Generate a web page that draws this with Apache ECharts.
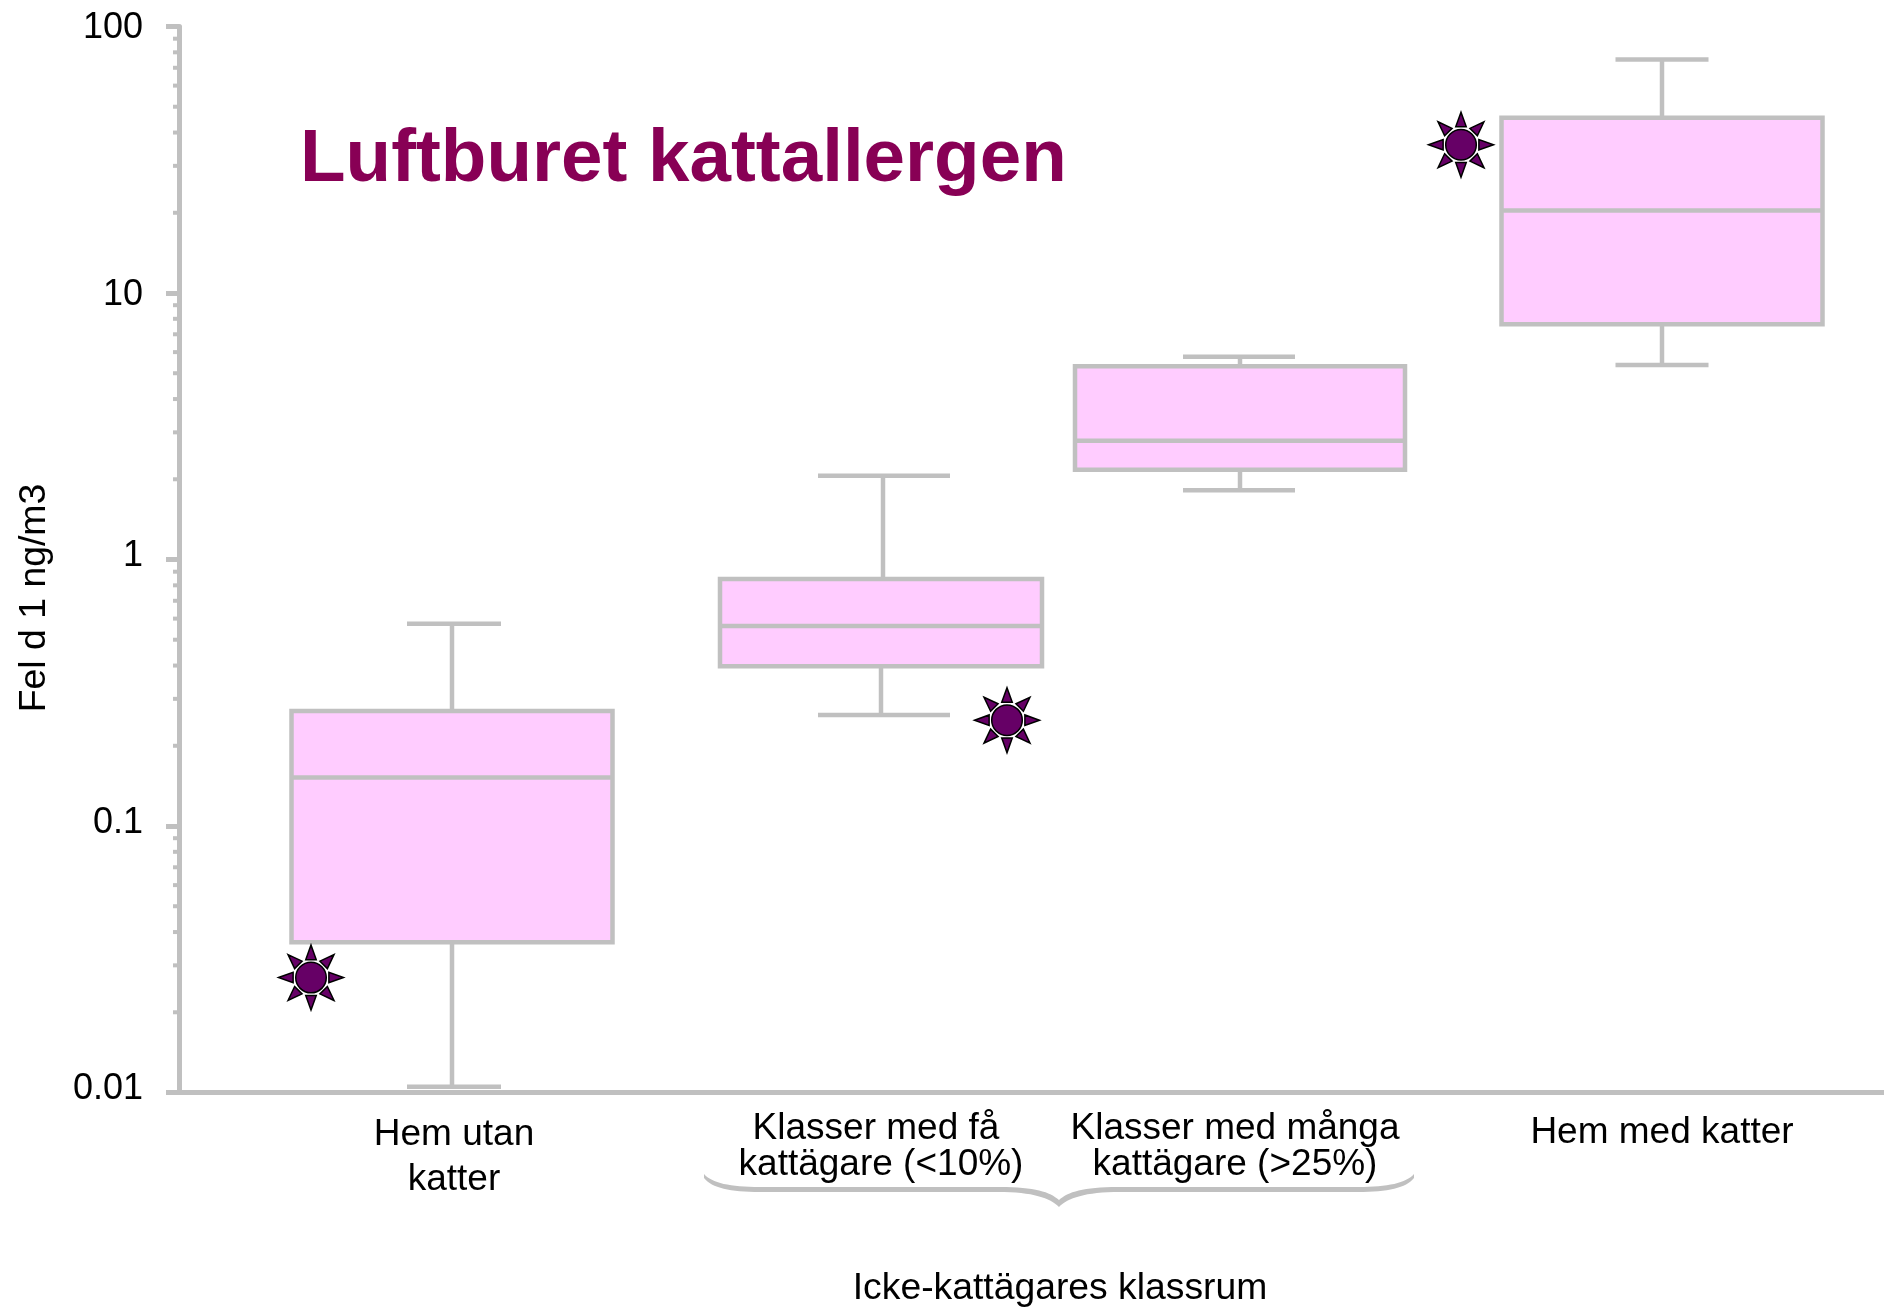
<!DOCTYPE html>
<html><head><meta charset="utf-8">
<style>html,body{margin:0;padding:0;background:#fff}#c{width:1884px;height:1307px}</style>
<script src="https://cdn.jsdelivr.net/npm/echarts@6/dist/echarts.min.js"></script>
</head><body><div id="c"></div>
<script>
const categories = ['Hem utan\nkatter','Klasser med få\nkattägare (<10%)','Klasser med många\nkattägare (>25%)','Hem med katter'];
const lineStyleKeys = [['a','a2'],['b1','b'],['b','b'],['c']];
const labelX = [275, 702, 1056, 1483];
const boxX = [273, 702, 1061, 1483];
const upperWhiskerX = [273, 704, 1061, 1483];
const capX = [275, 705, 1060, 1483];
const boxW = [321, 322, 330, 321];
const capW = [94, 132, 112, 93];
const low  = [0.0105, 0.261, 1.82, 5.37];
const q1   = [0.0366, 0.398, 2.17, 7.64];
const med  = [0.152, 0.563, 2.79, 20.4];
const q3   = [0.27, 0.845, 5.31, 45.5];
const high = [0.574, 2.06, 5.76, 75.2];
const outlierX = [132, 828, 1282];
const outlierY = [0.027, 0.2495, 36];
const yTicks = [0.01, 0.1, 1, 10, 100];
const minorTicks = [0.02,0.03,0.04,0.05,0.06,0.07,0.08,0.09,0.2,0.3,0.4,0.5,0.6,0.7,0.8,0.9,2,3,4,5,6,7,8,9,20,30,40,50,60,70,80,90];
const titleText = 'Luftburet kattallergen';
const yName = 'Fel d 1 ng/m3';
const groupName = 'Icke-kattägares klassrum';

const GREY = '#c0c0c0', FONT = '"Liberation Sans", Arial, sans-serif';
const BRACE = 'M704 1174C712 1183 730 1187 760 1187L1000 1187C1035 1187 1050 1192 1059 1200C1068 1192 1083 1187 1118 1187L1358 1187C1388 1187 1406 1183 1414 1174L1414 1178C1406 1188 1388 1192 1358 1192L1120 1192C1085 1192 1068 1198 1059 1207C1050 1198 1033 1192 998 1192L760 1192C730 1192 712 1188 704 1178Z';

function sunPath(){
  const R = 34, rb = 18.7, hw = 5.5, rc = 16;
  let d = 'path://M' + (R - rc) + ' ' + R + 'A' + rc + ' ' + rc + ' 0 1 1 ' + (R + rc) + ' ' + R + 'A' + rc + ' ' + rc + ' 0 1 1 ' + (R - rc) + ' ' + R + 'Z';
  for (let i = 0; i < 8; i++) {
    const a = i * Math.PI / 4, c = Math.cos(a), s = Math.sin(a);
    const pts = [[R*c, R*s], [rb*c - hw*s, rb*s + hw*c], [rb*c + hw*s, rb*s - hw*c]];
    d += 'M' + pts.map(p => (p[0] + R).toFixed(2) + ' ' + (p[1] + R).toFixed(2)).join('L') + 'Z';
  }
  return d;
}

const boxData = categories.map((_, i) => [boxX[i], low[i], q1[i], med[i], q3[i], high[i], boxW[i], capW[i], upperWhiskerX[i], capX[i]]);

function renderBox(params, api){
  const x = api.value(0), hb = api.value(6) / 2, hc = api.value(7) / 2, ux = api.value(8), kx = api.value(9);
  const xs = v => api.coord([v, 1])[0], ys = v => api.coord([0, v])[1];
  const yl = ys(api.value(1)), y1 = ys(api.value(2)), ym = ys(api.value(3)), y3 = ys(api.value(4)), yh = ys(api.value(5));
  const cx = xs(x), cu = xs(ux), L = xs(x - hb), Rr = xs(x + hb), cl = xs(kx - hc), cr = xs(kx + hc);
  const st = {stroke: GREY, lineWidth: 4.5, fill: null};
  const line = (a,b,c,d) => ({type:'line', shape:{x1:a,y1:b,x2:c,y2:d}, style:st});
  return {type:'group', children:[
    line(cu,yh,cu,y3), line(cl,yh,cr,yh), line(cx,y1,cx,yl), line(cl,yl,cr,yl),
    {type:'rect', shape:{x:L,y:y3,width:Rr-L,height:y1-y3}, style:{stroke:GREY,lineWidth:4.5,fill:'#ffccff'}},
    line(L,ym,Rr,ym)
  ]};
}

const xs37 = {fontSize:37,fontFamily:FONT,color:'#000'};
const rich = {
  a:{...xs37,lineHeight:49},
  a2:{...xs37,lineHeight:40},
  b:{...xs37,lineHeight:36},
  b1:{...xs37,lineHeight:36,padding:[0,10,0,0]},
  c:{...xs37,lineHeight:45}
};

const chart = echarts.init(document.getElementById('c'), null, {renderer:'canvas'});
chart.setOption({
  animation:false,
  backgroundColor:'#fff',
  title:{text:titleText,left:300,top:123,padding:0,textStyle:{fontFamily:FONT,fontWeight:'bold',fontSize:74.6,color:'#880055'}},
  grid:{left:179,right:0,top:26.5,bottom:214.5},
  xAxis:{type:'value',min:0,max:1705,splitLine:{show:false},
    axisLine:{show:true,onZero:false,lineStyle:{color:GREY,width:5}},
    axisTick:{show:false},
    axisLabel:{show:true,customValues:labelX,margin:18,verticalAlign:'top',align:'center',hideOverlap:false,
      formatter:v=>{const i=labelX.indexOf(v);return categories[i].split('\n').map((t,j)=>'{'+lineStyleKeys[i][j]+'|'+t+'}').join('\n');},
      rich}},
  yAxis:{type:'log',logBase:10,min:0.01,max:100,splitLine:{show:false},minorSplitLine:{show:false},
    axisLine:{show:true,lineStyle:{color:GREY,width:5}},
    axisTick:{show:true,length:13,lineStyle:{color:GREY,width:5}},
    axisLabel:{margin:36,fontFamily:FONT,fontSize:36,color:'#000',
      rich:{hi:{fontSize:36,fontFamily:FONT,color:'#000',padding:[4,0,0,0]},lo:{fontSize:36,fontFamily:FONT,color:'#000',padding:[0,0,6,0]}},
      formatter:v=>{const n=yTicks.find(t=>Math.abs(Math.log10(t)-Math.log10(v))<1e-6);const s=String(n===undefined?v:n);return (v>5?'{hi|':'{lo|')+s+'}';}}},
  graphic:[
    {type:'text',rotation:Math.PI/2,x:35,y:598,style:{text:yName,font:'37.4px '+FONT,fill:'#000',align:'center',verticalAlign:'middle'}},
    {type:'text',x:1060,y:1289,style:{text:groupName,font:'37.3px '+FONT,fill:'#000',align:'center',verticalAlign:'middle'}}
  ],
  series:[
    {type:'custom',name:'minor ticks',silent:true,clip:false,data:minorTicks.map(v=>[0,v]),encode:{x:0,y:1},
      renderItem:(p,api)=>{const c=api.coord([0,api.value(1)]);return {type:'line',shape:{x1:c[0]-6,y1:c[1],x2:c[0]-1,y2:c[1]},style:{stroke:GREY,lineWidth:4}};}},
    {type:'custom',name:'box',clip:false,data:boxData,encode:{x:0,y:[1,2,3,4,5]},renderItem:renderBox,z:3},
    {type:'custom',name:'brace',silent:true,clip:false,data:[[0,1]],encode:{x:0,y:1},
      renderItem:()=>({type:'path',shape:{pathData:BRACE,x:704,y:1174,width:710,height:33,layout:'cover'},style:{fill:GREY}})},
    {type:'scatter',name:'outliers',clip:false,z:5,symbol:sunPath(),symbolSize:65,
      itemStyle:{color:'#660066',borderColor:'#000',borderWidth:1.5,opacity:1},
      data:outlierX.map((x,i)=>[x,outlierY[i]])}
  ]
});
</script></body></html>
